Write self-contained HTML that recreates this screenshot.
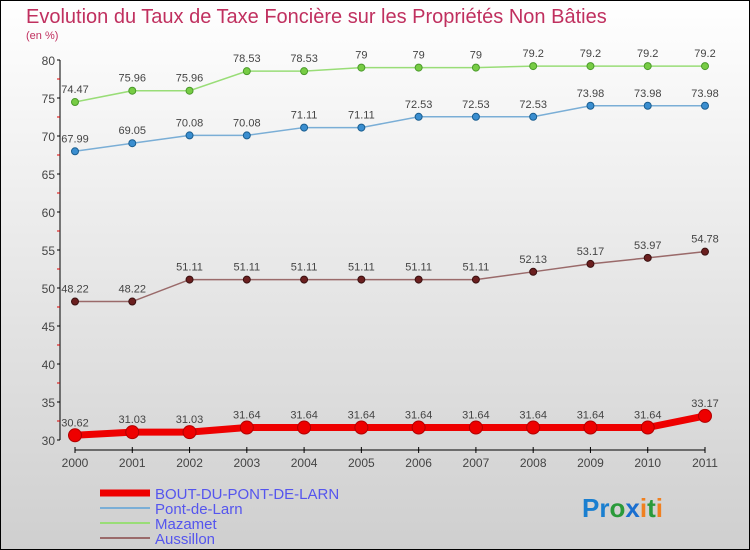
<!DOCTYPE html>
<html><head><meta charset="utf-8"><style>
body{margin:0;width:750px;height:550px;overflow:hidden;font-family:"Liberation Sans",sans-serif}
svg{display:block}
</style></head><body>
<svg id="chart" width="750" height="550" xmlns="http://www.w3.org/2000/svg">
<defs><linearGradient id="bg" x1="0" y1="0" x2="0" y2="1"><stop offset="0" stop-color="#ffffff"/><stop offset="1" stop-color="#cfcfcf"/></linearGradient></defs>
<rect x="0.5" y="0.5" width="749" height="549" fill="url(#bg)" stroke="#000"/>
<text x="26" y="23" font-size="20" fill="#c0305f">Evolution du Taux de Taxe Foncière sur les Propriétés Non Bâties</text>
<text x="26" y="39" font-size="11" fill="#c0305f">(en %)</text>
<g id="axes"></g><g id="series"></g>
<g>
<line x1="100" y1="493" x2="150" y2="493" stroke="#e00" stroke-width="7"/>
<text x="155" y="499" font-size="15" fill="#5555ee">BOUT-DU-PONT-DE-LARN</text>
<line x1="100" y1="508" x2="150" y2="508" stroke="#7aaed6" stroke-width="2"/>
<text x="155" y="514" font-size="15" fill="#5555ee">Pont-de-Larn</text>
<line x1="100" y1="523" x2="150" y2="523" stroke="#99dd77" stroke-width="2"/>
<text x="155" y="529" font-size="15" fill="#5555ee">Mazamet</text>
<line x1="100" y1="538" x2="150" y2="538" stroke="#9a6a6a" stroke-width="2"/>
<text x="155" y="544" font-size="15" fill="#5555ee">Aussillon</text>
</g>
<text x="582" y="517" font-size="26" font-weight="bold"><tspan fill="#1a7fd0">Pr</tspan><tspan fill="#2a9a3a">o</tspan><tspan fill="#1a6fd0">x</tspan><tspan fill="#f08020">i</tspan><tspan fill="#2a9a3a">t</tspan><tspan fill="#f08020">i</tspan></text>
</svg>
<script>
const years=["2000","2001","2002","2003","2004","2005","2006","2007","2008","2009","2010","2011"];
const yTicks=[30,35,40,45,50,55,60,65,70,75,80];
const bout=[30.62,31.03,31.03,31.64,31.64,31.64,31.64,31.64,31.64,31.64,31.64,33.17];
const pont=[67.99,69.05,70.08,70.08,71.11,71.11,72.53,72.53,72.53,73.98,73.98,73.98];
const mazamet=[74.47,75.96,75.96,78.53,78.53,79,79,79,79.2,79.2,79.2,79.2];
const aussillon=[48.22,48.22,51.11,51.11,51.11,51.11,51.11,51.11,52.13,53.17,53.97,54.78];
const NS="http://www.w3.org/2000/svg";
const x=i=>75+i*(630/11);
const y=v=>440-(v-30)*7.6;
function mk(t,a,p){const e=document.createElementNS(NS,t);for(const k in a)e.setAttribute(k,a[k]);p.appendChild(e);return e;}
const axes=document.getElementById('axes');
const yl=mk('line',{x1:60,y1:60,x2:60,y2:440,stroke:'#000'},axes);


yTicks.forEach(v=>{
  mk('line',{x1:57,y1:y(v),x2:60,y2:y(v),stroke:'#000'},axes);
  mk('line',{x1:57,y1:y(v+2.5),x2:60,y2:y(v+2.5),stroke:'#d00'},axes).style.display=v<80?'':'none';
  const t=mk('text',{x:55,y:y(v)+5,'font-size':12,'text-anchor':'end',fill:'#444'},axes);
  t.textContent=v;
  
  
});
const xl=mk('line',{x1:75,y1:450,x2:705,y2:450,stroke:'#000'},axes);


years.forEach((yr,i)=>{
  mk('line',{x1:x(i),y1:447,x2:x(i),y2:453,stroke:'#000'},axes);
  const t=mk('text',{x:x(i),y:467,'font-size':12,'text-anchor':'middle',fill:'#444'},axes);
  t.textContent=yr;
  
  
});
const S=document.getElementById('series');
function series(data,name,color,w,r,dot,dotStroke){
  const g=mk('g',{},S);
  
  
  mk('polyline',{points:data.map((v,i)=>x(i)+','+y(v)).join(' '),fill:'none',stroke:color,'stroke-width':w},g);
  data.forEach((v,i)=>{
    const c=mk('circle',{cx:x(i),cy:y(v),r:r,fill:dot,stroke:dotStroke,'stroke-width':1},g);
    
    
    const t=mk('text',{x:x(i),y:y(v)-9,'font-size':11,'text-anchor':'middle',fill:'#444'},g);
    t.textContent=v;
    
    
  });
}
series(aussillon,'aussillon','#9a6a6a',1.5,3.5,'#6b1f1f','#3a1010');
series(pont,'pont-de-larn','#7aaed6',1.5,3.5,'#3a8ed0','#1a5e90');
series(mazamet,'mazamet','#99dd77',1.5,3.5,'#77cc44','#4a9a2a');
series(bout,'bout-du-pont-de-larn','#ee0000',7,6.5,'#ee0000','#b00000');
</script>
</body></html>
